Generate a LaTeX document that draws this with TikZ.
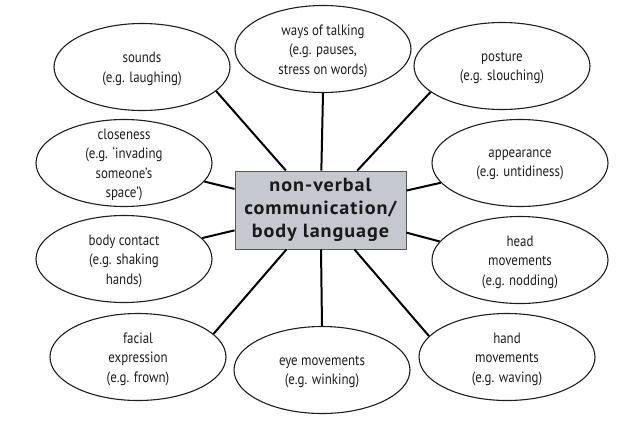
\documentclass[tikz,border=0pt]{standalone}
\usepackage{fontspec}
\setmainfont{PT Sans}
\newfontfamily\bubblefam[FakeStretch=0.86]{PT Sans}
\newfontfamily\hubfam[FakeStretch=1.06, LetterSpace=5]{PT Sans}
\usetikzlibrary{shapes.geometric}
\definecolor{boxgrey}{HTML}{C6C8D0}
\definecolor{inkgrey}{HTML}{1E1E1E}
\newcommand{\bubblefont}{\bubblefam\fontsize{15pt}{19.5pt}\selectfont}
\newcommand{\hubfont}{\hubfam\fontsize{19pt}{23pt}\selectfont\bfseries}
\tikzset{bubble/.style={ellipse, draw=inkgrey, line width=1.1pt, fill=white,
   minimum width=176pt, minimum height=87pt, inner sep=0pt}}
\tikzset{every label/.append style={align=center, font=\bubblefont, text=inkgrey, yshift=-2pt}}
\tikzset{hub/.style={rectangle, draw=black!65, line width=0.9pt, fill=boxgrey,
   minimum width=171pt, minimum height=78pt, inner sep=0pt,
   align=center, font=\hubfont, text=black!90}}
\tikzset{spoke/.style={line width=2pt, black}}

\begin{document}
\begin{tikzpicture}[x=1pt, y=-1pt]

    \useasboundingbox (0,0) rectangle (632,421);

    \node[hub] (hub) at (320.5,210) {non-verbal\\communication/\\body language};

    \node[bubble, label=center:{sounds\\(e.g. laughing)}] (sounds) at (142,67) {};
    \node[bubble, label=center:{ways of talking\\(e.g. pauses,\\stress on words)}] (ways) at (323,49) {};
    \node[bubble, label=center:{posture\\(e.g. slouching)}] (posture) at (502,66) {};
    \node[bubble, label=center:{closeness\\(e.g. ‘invading\\someone’s\\space’)}] (closeness) at (124,163) {};
    \node[bubble, label=center:{appearance\\(e.g. untidiness)}] (appearance) at (520,163) {};
    \node[bubble, label=center:{body contact\\(e.g. shaking\\hands)}] (contact) at (124,259) {};
    \node[bubble, label=center:{head\\movements\\(e.g. nodding)}] (head) at (520,260) {};
    \node[bubble, label=center:{facial\\expression\\(e.g. frown)}] (facial) at (138,357) {};
    \node[bubble, label=center:{eye movements\\(e.g. winking)}] (eyes) at (322,370) {};
    \node[bubble, label=center:{hand\\movements\\(e.g. waving)}] (hand) at (507,357) {};

    \draw[spoke] (hub) -- (sounds.-18);
    \draw[spoke] (hub) -- (ways.270);
    \draw[spoke] (hub) -- (posture.200);
    \draw[spoke] (hub) -- (closeness.-13);
    \draw[spoke] (hub) -- (appearance.194);
    \draw[spoke] (hub) -- (contact.15);
    \draw[spoke] (hub) -- (head.167);
    \draw[spoke] (hub) -- (facial.17);
    \draw[spoke] (hub) -- (eyes.90);
    \draw[spoke] (hub) -- (hand.165);

  \end{tikzpicture}
\end{document}
